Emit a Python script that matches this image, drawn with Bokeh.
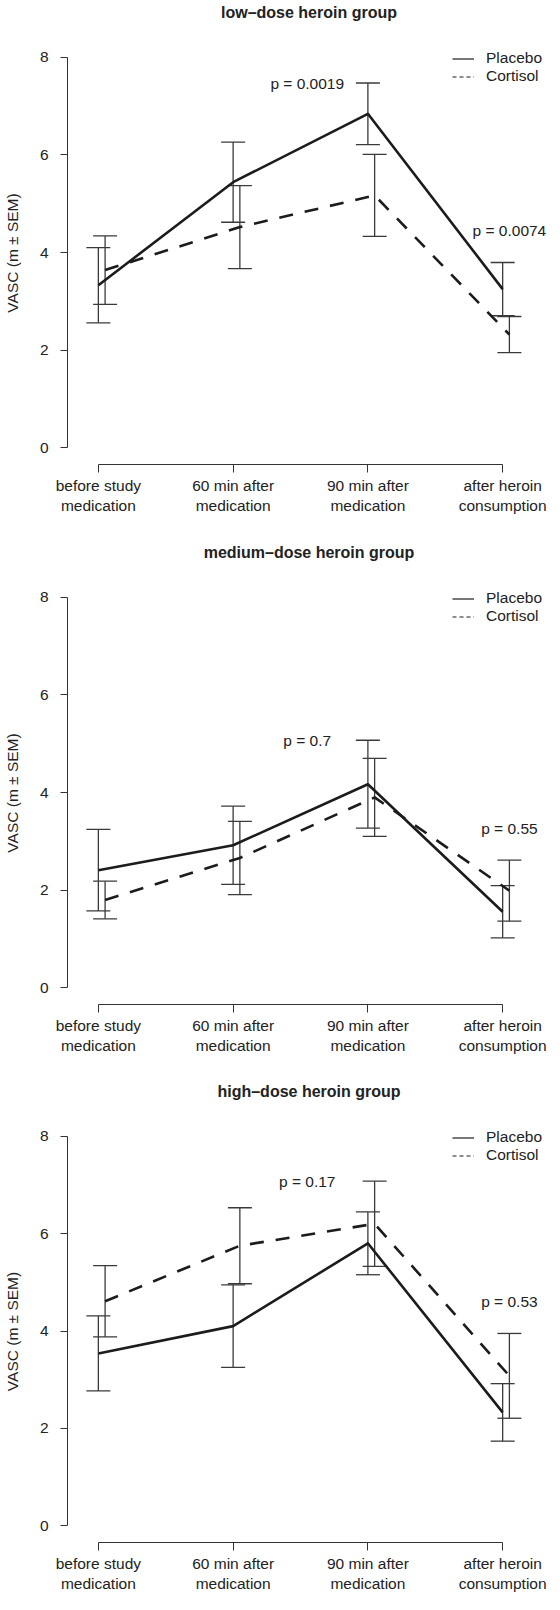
import numpy as np
from bokeh.plotting import figure
from bokeh.models import (ColumnDataSource, Range1d, FixedTicker, Whisker, TeeHead,
                          Legend, LegendItem)
from bokeh.layouts import column
from bokeh.embed import file_html
from bokeh.resources import INLINE
from bokeh.core.properties import value

# ---------------- data ----------------
timepoints = ["before study\nmedication", "60 min after\nmedication",
              "90 min after\nmedication", "after heroin\nconsumption"]
groups = ["low\u2013dose heroin group", "medium\u2013dose heroin group", "high\u2013dose heroin group"]
series = ["Placebo", "Cortisol"]

low_placebo_mean = [3.33, 5.44, 6.84, 3.25]
low_placebo_sem = [0.77, 0.82, 0.63, 0.545]
low_cortisol_mean = [3.64, 4.52, 5.17, 2.32]
low_cortisol_sem = [0.70, 0.85, 0.84, 0.37]

medium_placebo_mean = [2.41, 2.92, 4.17, 1.56]
medium_placebo_sem = [0.835, 0.80, 0.90, 0.535]
medium_cortisol_mean = [1.80, 2.66, 3.90, 1.99]
medium_cortisol_sem = [0.385, 0.75, 0.80, 0.625]

high_placebo_mean = [3.54, 4.10, 5.80, 2.33]
high_placebo_sem = [0.77, 0.845, 0.645, 0.59]
high_cortisol_mean = [4.61, 5.75, 6.20, 3.08]
high_cortisol_sem = [0.73, 0.78, 0.875, 0.87]

p_values_90min = ["p = 0.0019", "p = 0.7", "p = 0.17"]
p_values_after = ["p = 0.0074", "p = 0.55", "p = 0.53"]

y_ticks = [0, 2, 4, 6, 8]

# ---------------- style ----------------
FONT = "Liberation Sans"
TXT = "#222222"
LINE = "#1c1c1c"
BAR = "#3a3a3a"
AXIS = "#333333"
FS = "15.5px"
CORT_SHIFT = 0.05
DASH = "14 12"
X0, X1 = 0.771, 4.355
Y0, Y1 = -0.34, 8.32


def panel(title, pm, ps, cm, cs, p90, pafter, height, top, bottom):
    x = [i + 1 for i in range(len(timepoints))]
    xc = [v + CORT_SHIFT for v in x]
    # the empty second title line lifts the title well above the data area
    p = figure(width=550, height=height, x_range=Range1d(X0, X1),
               y_range=Range1d(Y0, Y1), output_backend="svg",
               toolbar_location=None, min_border_left=65, min_border_right=0,
               min_border_top=top, min_border_bottom=bottom, title=title + "\n")
    p.outline_line_color = None
    p.background_fill_color = "white"
    p.border_fill_color = "white"
    p.xgrid.visible = False
    p.ygrid.visible = False

    p.title.align = "center"
    p.title.text_font = FONT
    p.title.text_font_size = "16px"
    p.title.text_font_style = "bold"
    p.title.text_color = TXT
    p.title.standoff = 0
    p.title.text_line_height = 1.2

    src_p = ColumnDataSource(dict(x=x, y=pm,
                                  upper=[m + s for m, s in zip(pm, ps)],
                                  lower=[m - s for m, s in zip(pm, ps)]))
    src_c = ColumnDataSource(dict(x=xc, y=cm,
                                  upper=[m + s for m, s in zip(cm, cs)],
                                  lower=[m - s for m, s in zip(cm, cs)]))

    for src in (src_p, src_c):
        w = Whisker(base="x", upper="upper", lower="lower", source=src,
                    dimension="height", line_color=BAR, line_width=1.3,
                    upper_head=TeeHead(size=24, line_color=BAR, line_width=1.3),
                    lower_head=TeeHead(size=24, line_color=BAR, line_width=1.3))
        p.add_layout(w)

    p.line("x", "y", source=src_p, line_color=LINE, line_width=2.6, line_join="round")
    p.line("x", "y", source=src_c, line_color=LINE, line_width=2.6, line_dash=DASH,
           line_join="round")

    # legend-only glyphs (thin, like the original key); NaN data draws nothing
    nan = np.array([np.nan, np.nan])
    lp = p.line(x=nan, y=nan, line_color=LINE, line_width=1.2)
    lc = p.line(x=nan, y=nan, line_color=LINE, line_width=1.2, line_dash="4 3")
    leg = Legend(items=[LegendItem(label=series[0], renderers=[lp]),
                        LegendItem(label=series[1], renderers=[lc])],
                 location="top_right", margin=0, padding=8, spacing=-6,
                 glyph_width=22, glyph_height=13, label_height=13,
                 label_standoff=12, border_line_alpha=0, background_fill_alpha=0,
                 label_text_font=FONT, label_text_font_size=FS,
                 label_text_color=TXT)
    p.add_layout(leg)

    # p-value annotations: at the higher error bar (90 min) / above it (after heroin)
    up90 = max(src_p.data["upper"][2], src_c.data["upper"][2])
    up4 = max(src_p.data["upper"][3], src_c.data["upper"][3])
    ptxt = ColumnDataSource(dict(x=[2.55, 4.05], y=[up90, up4 + 0.65],
                                 text=[p90, pafter]))
    p.text("x", "y", text="text", source=ptxt, text_font=value(FONT),
           text_font_size=FS, text_align="center", text_baseline="middle",
           text_color=TXT)

    # axes (R-like: detached, limited spans)
    xa = p.xaxis[0]
    xa.ticker = FixedTicker(ticks=x)
    xa.major_label_overrides = {v: t for v, t in zip(x, timepoints)}
    xa.bounds = (1, 4)
    xa.major_tick_out = 8
    xa.major_tick_in = 0
    xa.minor_tick_out = 0
    xa.minor_tick_in = 0
    xa.major_label_standoff = 4
    xa.major_label_text_font = FONT
    xa.major_label_text_font_size = FS
    xa.major_label_text_color = TXT
    xa.major_label_text_line_height = 1.2
    xa.axis_line_color = AXIS
    xa.major_tick_line_color = AXIS

    ya = p.yaxis[0]
    ya.ticker = FixedTicker(ticks=y_ticks)
    ya.bounds = (0, 8)
    ya.major_tick_out = 7
    ya.major_tick_in = 0
    ya.minor_tick_out = 0
    ya.minor_tick_in = 0
    ya.major_label_standoff = 12
    ya.major_label_text_font = FONT
    ya.major_label_text_font_size = FS
    ya.major_label_text_color = TXT
    ya.axis_label = "VASC (m \u00b1 SEM)"
    ya.axis_label_text_font = FONT
    ya.axis_label_text_font_size = FS
    ya.axis_label_text_font_style = "normal"
    ya.axis_label_text_color = TXT
    ya.axis_label_standoff = 16
    ya.axis_line_color = AXIS
    ya.major_tick_line_color = AXIS
    return p


p1 = panel(groups[0], low_placebo_mean, low_placebo_sem, low_cortisol_mean, low_cortisol_sem,
           p_values_90min[0], p_values_after[0], 524, 41, 60)
p2 = panel(groups[1], medium_placebo_mean, medium_placebo_sem, medium_cortisol_mean,
           medium_cortisol_sem, p_values_90min[1], p_values_after[1], 538, 57, 58)
p3 = panel(groups[2], high_placebo_mean, high_placebo_sem, high_cortisol_mean, high_cortisol_sem,
           p_values_90min[2], p_values_after[2], 532, 58, 51)

layout = column(p1, p2, p3, spacing=0)
open("out.html", "w").write(file_html(layout, INLINE))
